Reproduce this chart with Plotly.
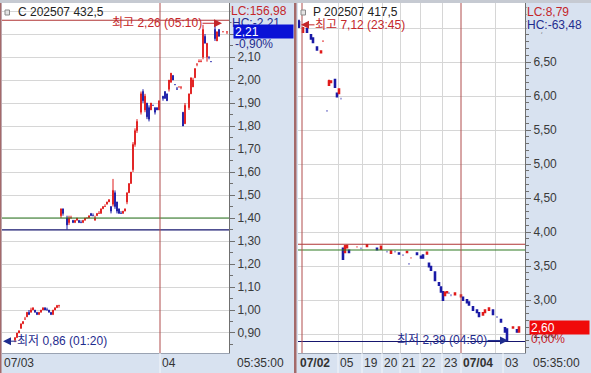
import plotly.graph_objects as go

W, H = 591, 373

# ---------------- data ----------------
# Left panel : C 202507 432,5  (bar slot index, open, high, low, close)
c_slot = [6, 7, 8, 9, 10, 11, 12, 13, 14, 15, 16, 17, 18, 19, 20, 21, 22, 23, 24, 25, 26, 27, 28,
          29, 30, 32, 33, 34, 35, 36, 37, 38, 39, 40, 41, 42, 43, 44, 45, 46, 47, 48, 49, 50, 51,
          52, 53, 54, 55, 56, 57, 58, 59, 60, 61, 62, 63, 64, 65, 66, 67, 69, 70, 71, 72, 73, 74,
          75, 76, 77, 78, 80, 81, 82, 83, 84, 85, 86, 87, 88, 89, 90, 91, 93, 94, 95, 96, 97, 98,
          99, 100, 101, 102, 103, 104, 106, 107, 108, 110, 112]
c_open = [.87, .88, .90, .92, .94, .96, .97, .99, .99, 1.00, 1.00, .99, .98, .99, 1.00, 1.01, 1.00, 1.00, .99, .98, 1.00, 1.01, 1.02,
          1.41, 1.44, 1.40, 1.38, 1.40, 1.39, 1.38, 1.39, 1.39, 1.38, 1.38, 1.39, 1.40, 1.40, 1.42, 1.41, 1.39, 1.41, 1.42, 1.42, 1.44, 1.45,
          1.46, 1.47, 1.45, 1.46, 1.51, 1.47, 1.44, 1.42, 1.42, 1.43, 1.47, 1.51, 1.55, 1.61, 1.72, 1.78, 1.86, 1.95, 1.87, 1.90, 1.88, 1.87,
          1.89, 1.88, 1.88, 1.87, 1.93, 1.95, 1.94, 1.96, 1.99, 2.02, 1.98, 1.96, 1.97, 1.97, 1.86, 1.81, 1.88, 1.94, 1.97, 2.01, 2.07, 2.08,
          2.08, 2.10, 2.19, 2.10, 2.10, 2.08, 2.22, 2.17, 2.22, 2.21, 2.21]
c_high = [.88, .90, .91, .94, .95, .97, .99, 1.00, 1.01, 1.01, 1.00, .99, .99, 1.00, 1.01, 1.01, 1.01, 1.00, .99, 1.00, 1.01, 1.02, 1.02,
          1.44, 1.44, 1.41, 1.41, 1.41, 1.39, 1.39, 1.40, 1.39, 1.39, 1.39, 1.40, 1.40, 1.41, 1.42, 1.42, 1.41, 1.42, 1.43, 1.44, 1.45, 1.46,
          1.47, 1.48, 1.45, 1.57, 1.52, 1.47, 1.44, 1.43, 1.43, 1.44, 1.51, 1.55, 1.60, 1.73, 1.79, 1.83, 1.95, 1.96, 1.94, 1.90, 1.89, 1.90,
          1.89, 1.88, 1.88, 1.91, 1.93, 1.95, 1.94, 2.00, 2.03, 2.02, 1.98, 1.97, 1.97, 1.97, 1.86, 1.90, 1.94, 2.01, 2.01, 2.05, 2.07, 2.09,
          2.09, 2.24, 2.20, 2.16, 2.10, 2.08, 2.26, 2.21, 2.22, 2.21, 2.21]
c_low = [.86, .88, .90, .92, .94, .96, .97, .98, .99, 1.00, .99, .98, .98, .99, 1.00, 1.00, 1.00, .99, .98, .98, 1.00, 1.01, 1.01,
         1.40, 1.41, 1.35, 1.37, 1.40, 1.38, 1.38, 1.39, 1.38, 1.38, 1.38, 1.39, 1.40, 1.40, 1.41, 1.41, 1.39, 1.41, 1.42, 1.42, 1.44, 1.45,
         1.46, 1.47, 1.42, 1.45, 1.44, 1.42, 1.42, 1.42, 1.42, 1.43, 1.46, 1.51, 1.55, 1.60, 1.71, 1.77, 1.85, 1.90, 1.86, 1.83, 1.82, 1.87,
         1.89, 1.85, 1.87, 1.87, 1.91, 1.92, 1.91, 1.95, 1.99, 2.00, 1.98, 1.96, 1.97, 1.96, 1.80, 1.81, 1.87, 1.94, 1.97, 2.01, 2.06, 2.08,
         2.08, 2.09, 2.16, 2.08, 2.09, 2.08, 2.17, 2.17, 2.19, 2.21, 2.20]
c_close = [.88, .90, .91, .94, .95, .96, .99, .98, 1.00, 1.01, .99, .98, .99, 1.00, 1.01, 1.00, 1.00, .99, .98, 1.00, 1.01, 1.02, 1.02,
           1.44, 1.42, 1.37, 1.40, 1.40, 1.38, 1.39, 1.40, 1.38, 1.38, 1.39, 1.40, 1.40, 1.41, 1.41, 1.41, 1.40, 1.42, 1.42, 1.44, 1.45, 1.45,
           1.47, 1.48, 1.43, 1.52, 1.45, 1.43, 1.42, 1.42, 1.43, 1.44, 1.51, 1.55, 1.60, 1.72, 1.78, 1.82, 1.94, 1.91, 1.93, 1.84, 1.83, 1.90,
           1.89, 1.86, 1.87, 1.91, 1.92, 1.92, 1.91, 2.00, 2.03, 2.00, 1.98, 1.96, 1.97, 1.97, 1.80, 1.89, 1.94, 2.01, 2.00, 2.05, 2.07, 2.08,
           2.08, 2.22, 2.16, 2.16, 2.10, 2.08, 2.18, 2.21, 2.19, 2.21, 2.21]

# Right panel : P 202507 417,5
p_slot = [0, 2, 4, 6, 7, 9, 11, 12, 14, 15, 16, 18, 19, 20, 21, 22, 23, 24, 25, 29, 31, 34, 39, 41, 44,
          46, 48, 50, 52, 54, 55, 56, 59, 61, 62, 64, 65, 66, 68, 70, 71, 72, 73, 74, 75, 76, 78, 81,
          82, 84, 85, 87, 89, 90, 92, 93, 95, 97, 99, 101, 103, 104, 107, 109, 110]
p_open = [7.09, 6.94, 6.99, 6.90, 6.85, 6.72, 6.64, 6.81, 5.78, 6.16, 6.20, 6.24, 6.04, 6.04, 5.96, 3.76, 3.70, 3.77, 3.73, 3.78, 3.76, 3.79, 3.76, 3.75, 3.71,
          3.69, 3.71, 3.69, 3.66, 3.70, 3.53, 3.62, 3.69, 3.64, 3.66, 3.68, 3.54, 3.49, 3.41, 3.25, 3.19, 3.12, 3.07, 3.11, 3.10, 3.07, 3.08, 3.05,
          3.04, 3.00, 2.97, 2.90, 2.85, 2.81, 2.78, 2.82, 2.85, 2.85, 2.75, 2.71, 2.59, 2.57, 2.59, 2.56, 2.53]
p_high = [7.12, 7.01, 6.99, 6.90, 6.85, 6.72, 6.67, 6.81, 5.78, 6.24, 6.23, 6.24, 6.04, 6.10, 5.96, 3.76, 3.81, 3.81, 3.73, 3.78, 3.76, 3.81, 3.76, 3.79, 3.71,
          3.72, 3.71, 3.69, 3.66, 3.71, 3.53, 3.62, 3.69, 3.64, 3.66, 3.70, 3.54, 3.49, 3.41, 3.25, 3.19, 3.12, 3.11, 3.12, 3.10, 3.07, 3.10, 3.07,
          3.04, 3.00, 2.97, 2.90, 2.85, 2.81, 2.81, 2.85, 2.88, 2.85, 2.75, 2.71, 2.59, 2.57, 2.60, 2.56, 2.60]
p_low = [7.00, 6.93, 6.94, 6.84, 6.79, 6.68, 6.64, 6.80, 5.78, 6.16, 6.20, 6.13, 5.99, 6.04, 5.96, 3.59, 3.69, 3.76, 3.69, 3.78, 3.76, 3.79, 3.74, 3.75, 3.71,
         3.69, 3.71, 3.68, 3.66, 3.70, 3.53, 3.62, 3.67, 3.62, 3.62, 3.68, 3.49, 3.44, 3.29, 3.22, 3.12, 3.00, 3.07, 3.11, 3.10, 3.07, 3.08, 3.05,
         3.00, 2.96, 2.93, 2.85, 2.82, 2.76, 2.78, 2.82, 2.85, 2.79, 2.75, 2.68, 2.53, 2.39, 2.59, 2.53, 2.53]
p_close = [7.02, 7.00, 6.94, 6.84, 6.79, 6.68, 6.66, 6.81, 5.78, 6.22, 6.22, 6.13, 5.99, 6.10, 5.96, 3.60, 3.79, 3.80, 3.70, 3.78, 3.76, 3.81, 3.74, 3.79, 3.71,
           3.72, 3.71, 3.68, 3.66, 3.71, 3.53, 3.62, 3.67, 3.62, 3.62, 3.70, 3.49, 3.44, 3.29, 3.22, 3.12, 3.00, 3.11, 3.12, 3.10, 3.07, 3.10, 3.07,
           3.00, 2.96, 2.93, 2.85, 2.82, 2.76, 2.81, 2.85, 2.88, 2.79, 2.75, 2.68, 2.53, 2.40, 2.60, 2.53, 2.60]

# x-axis labels (slot positions) and day-change lines
c_tick_pos = [-0.5, 78.5]
c_tick_text = ["07/03", "04"]
c_day_lines = [78.5]
p_tick_pos = [-0.5, 19.5, 31.5, 41.5, 50.5, 60.5, 71.5, 81, 102]
p_tick_text = ["<b>07/02</b>", "05", "19", "20", "21", "22", "23", "<b>07/04</b>", "03"]
p_grid_pos = [19.5, 31.5, 41.5, 50.5, 60.5, 71.5, 98]
p_day_lines = [1.5, 81]

# horizontal reference levels (value, kind)
c_levels = [(2.26, "high"), (1.40, "green"), (1.348, "navy")]
p_levels = [(3.82, "high"), (3.735, "green"), (2.39, "navy")]

# header / status values
c_title, p_title = "C 202507 432,5", "P 202507 417,5"
c_lc, c_hc = "LC:156,98", "HC:-2,21"
p_lc, p_hc = "LC:8,79", "HC:-63,48"
c_pct, p_pct = "-0,90%", "0,00%"
c_hi = (2.26, "05:10", 109.5)
c_lo = (0.86, "01:20", 0.0)
p_hi = (7.12, "23:45", 1.0)
p_lo = (2.39, "04:50", 104.5)
clock = "05:35:00"

# ---------------- style ----------------
RED = "#e01a1a"
BLUE = "#1a1aa6"
TXT_RED = "#c4262a"
TXT_NAVY = "#1f2c8e"
AXBG = "#d8e2f0"
GRID = "#d6d6d6"
FONT = "Liberation Sans, Arial, Noto Sans CJK KR, sans-serif"
LEVEL_COL = {"high": "#b03434", "green": "#2f7a22", "navy": "#16166e"}


def fmt(v):
    return f"{v:.2f}".replace(".", ",")


def px_x(p):
    return p / W


def px_y(p):
    return 1 - p / H


plot_top, plot_bot = 3, 353
ydom = [px_y(plot_bot), px_y(plot_top)]

fig = go.Figure()
fig.add_trace(go.Candlestick(
    x=c_slot, open=c_open, high=c_high, low=c_low, close=c_close,
    xaxis="x", yaxis="y", whiskerwidth=0, hoverinfo="skip", showlegend=False,
    increasing=dict(line=dict(color=RED, width=1), fillcolor=RED),
    decreasing=dict(line=dict(color=BLUE, width=1), fillcolor=BLUE)))
fig.add_trace(go.Candlestick(
    x=p_slot, open=p_open, high=p_high, low=p_low, close=p_close,
    xaxis="x2", yaxis="y2", whiskerwidth=0, hoverinfo="skip", showlegend=False,
    increasing=dict(line=dict(color=RED, width=1.8), fillcolor=RED),
    decreasing=dict(line=dict(color=BLUE, width=1.8), fillcolor=BLUE)))

xcommon = dict(showgrid=False, zeroline=False, showline=True, linecolor="#9aa3b2",
               ticks="", showticklabels=False, fixedrange=True,
               rangeslider=dict(visible=False))
ycommon = dict(side="right", showline=True, linecolor="#707070", ticks="outside",
               ticklen=5, tickcolor="#707070", tickformat=".2f", tick0=0,
               showgrid=True, gridcolor=GRID, zeroline=False, fixedrange=True,
               tickfont=dict(size=12, color="#3a3a3a", family=FONT), domain=ydom)

fig.update_layout(
    width=W, height=H, margin=dict(l=0, r=0, t=0, b=0),
    paper_bgcolor=AXBG, plot_bgcolor="white", separators=", ",
    boxgap=0.45, font=dict(family=FONT, size=12),
    xaxis=dict(domain=[px_x(2), px_x(229)], range=[-0.5, 113], anchor="y", **xcommon),
    xaxis2=dict(domain=[px_x(298), px_x(525)], range=[-0.5, 113], anchor="y2",
                minor=dict(tickmode="array", tickvals=p_grid_pos, showgrid=True,
                           gridcolor=GRID, ticks=""),
                **xcommon),
    yaxis=dict(anchor="x", range=[0.813, 2.335], dtick=0.1,
               minor=dict(dtick=0.05, ticks="outside", ticklen=3, tickcolor="#707070", showgrid=False),
               **ycommon),
    yaxis2=dict(anchor="x2", range=[2.2206, 7.3676], dtick=0.5,
                minor=dict(dtick=0.1, ticks="outside", ticklen=3, tickcolor="#707070", showgrid=False),
                **ycommon),
)

shapes = []
# horizontal levels
for xr, yr, levels in (("x", "y", c_levels), ("x2", "y2", p_levels)):
    for val, kind in levels:
        shapes.append(dict(type="line", xref=f"{xr} domain", yref=yr, x0=0, x1=1, y0=val, y1=val,
                           line=dict(color=LEVEL_COL[kind], width=1.2), layer="above"))
# day-change lines
for xr, yr, lines in (("x", "y", c_day_lines), ("x2", "y2", p_day_lines)):
    for v in lines:
        shapes.append(dict(type="line", xref=xr, yref=f"{yr} domain", x0=v, x1=v, y0=0, y1=1,
                           line=dict(color="#b04c4c", width=1), layer="above"))
# separators in the time strip
for xr, ticks in (("x", c_tick_pos), ("x2", p_tick_pos)):
    for v in ticks[1:]:
        shapes.append(dict(type="line", xref=xr, yref="paper", x0=v, x1=v, y0=0, y1=px_y(plot_bot),
                           line=dict(color="#f4f7fb", width=1), layer="above"))
# frame pieces
shapes += [
    dict(type="rect", xref="paper", yref="paper", x0=0, x1=1, y0=px_y(3), y1=1,
         fillcolor="#c6cad2", line=dict(width=0), layer="above"),
    dict(type="rect", xref="paper", yref="paper", x0=0, x1=px_x(1.5), y0=0, y1=px_y(3),
         fillcolor="#a46a6a", line=dict(width=0), layer="above"),
    dict(type="rect", xref="paper", yref="paper", x0=px_x(294), x1=px_x(296.5), y0=0, y1=px_y(3),
         fillcolor="#a46a6a", line=dict(width=0), layer="above"),
    dict(type="rect", xref="paper", yref="paper", x0=px_x(5), x1=px_x(9.5), y0=px_y(15), y1=px_y(10),
         fillcolor="#e4e4e4", line=dict(color="#8a8a8a", width=1), layer="above"),
    dict(type="rect", xref="paper", yref="paper", x0=px_x(301), x1=px_x(305.5), y0=px_y(15), y1=px_y(10),
         fillcolor="#e4e4e4", line=dict(color="#8a8a8a", width=1), layer="above"),
]
fig.update_layout(shapes=shapes)

ann = []


def txt(x, y, text, color, xanchor="left", yref="paper", xref="paper", size=12, **kw):
    d = dict(xref=xref, yref=yref, x=x, y=y, text=text, showarrow=False,
             xanchor=xanchor, yanchor="middle", font=dict(size=size, color=color, family=FONT))
    d.update(kw)
    ann.append(d)


# time-axis labels
for xr, pos, labels in (("x", c_tick_pos, c_tick_text), ("x2", p_tick_pos, p_tick_text)):
    for v, t in zip(pos, labels):
        txt(v, px_y(363), t, "#333333", xref=xr, borderpad=0, xshift=1)

# titles
txt(px_x(16), px_y(12), c_title, "#222222")
txt(px_x(311), px_y(12), p_title, "#222222")

# LC / HC
txt(px_x(229.5), px_y(11), c_lc, TXT_RED, bgcolor=AXBG, borderpad=0)
txt(px_x(230.5), px_y(23), c_hc, TXT_NAVY, bgcolor=AXBG, borderpad=0)
txt(px_x(525.5), px_y(12), p_lc, TXT_RED, bgcolor=AXBG, borderpad=0)
txt(px_x(525.5), px_y(25), p_hc, TXT_NAVY, bgcolor=AXBG, borderpad=0)

# last price boxes
txt(px_x(233), c_close[-1], fmt(c_close[-1]), "white", yref="y", bgcolor="#0a12d6",
    width=57, height=11, align="left", borderpad=1)
txt(px_x(234), c_close[-1], c_pct, TXT_NAVY, yref="y", yshift=-12, borderpad=0)
txt(px_x(529), p_close[-1], fmt(p_close[-1]), "white", yref="y2", bgcolor="#f00a0a",
    width=57, height=11, align="left", borderpad=1)
txt(px_x(530), p_close[-1], p_pct, TXT_RED, yref="y2", yshift=-12, borderpad=0)

# clock labels
txt(px_x(260), px_y(363), clock, "#333333", xanchor="center")
txt(px_x(556), px_y(363), clock, "#333333", xanchor="center")


def extreme(xr, yr, data, label, color, ax, yshift):
    val, t, slot = data
    ann.append(dict(xref=xr, yref=yr, x=slot, y=val, text=f"{label} {fmt(val)} ({t})",
                    showarrow=True, arrowhead=2, arrowsize=1.6, arrowwidth=1, arrowcolor=color,
                    ax=ax, ay=0, standoff=0, yshift=yshift, borderpad=0,
                    font=dict(size=12, color=color, family=FONT)))


extreme("x", "y", c_hi, "최고", TXT_RED, -65, -3)
extreme("x", "y", c_lo, "최저", TXT_NAVY, 59, 1)
extreme("x2", "y2", p_hi, "최고", TXT_RED, 59, -5)
extreme("x2", "y2", p_lo, "최저", TXT_NAVY, -66, 1)

fig.update_layout(annotations=ann)
fig.write_html("out.html", config={"displayModeBar": False},
               post_script="document.body.style.margin='0px';")
